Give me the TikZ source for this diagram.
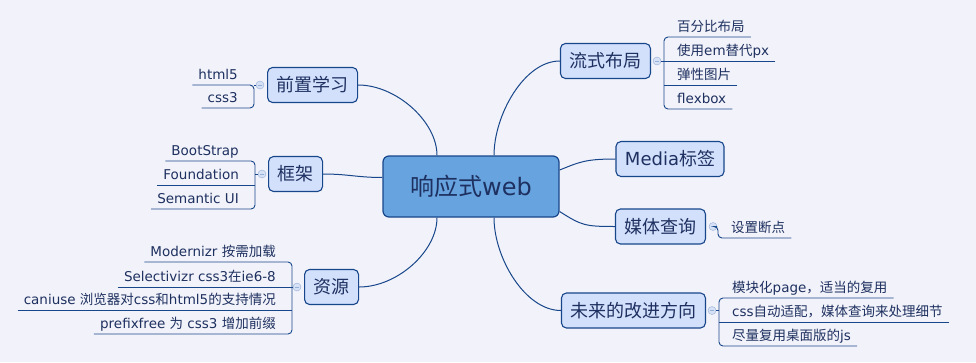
\documentclass[tikz,border=0pt]{standalone}
\usepackage{fontspec}
\setmainfont{DejaVu Sans}
\newfontfamily\cjkfont{Noto Sans CJK SC}
\usetikzlibrary{calc}

% cambio automatico de fuente para los caracteres chinos
\XeTeXinterchartokenstate=1
\newXeTeXintercharclass\cjkclass
\newcount\cjkc
\cjkc="3000
\loop \XeTeXcharclass\cjkc=\cjkclass \advance\cjkc by 1 \ifnum\cjkc<"3040 \repeat
\cjkc="4E00
\loop \XeTeXcharclass\cjkc=\cjkclass \advance\cjkc by 1 \ifnum\cjkc<"A000 \repeat
\cjkc="FF00
\loop \XeTeXcharclass\cjkc=\cjkclass \advance\cjkc by 1 \ifnum\cjkc<"FFF0 \repeat
\XeTeXinterchartoks 0 \cjkclass = {\begingroup\cjkfont}
\XeTeXinterchartoks 4095 \cjkclass = {\begingroup\cjkfont}
\XeTeXinterchartoks \cjkclass 0 = {\endgroup}
\XeTeXinterchartoks \cjkclass 4095 = {\endgroup}

\definecolor{papel}{RGB}{242,243,250}
\definecolor{relleno}{RGB}{210,224,252}
\definecolor{raiz}{RGB}{103,163,223}
\definecolor{marino}{RGB}{24,70,138}
\definecolor{tinta}{RGB}{30,48,96}
\definecolor{plegar}{RGB}{214,225,245}
\definecolor{plegarborde}{RGB}{150,175,215}

\begin{document}
\begin{tikzpicture}[
            x=1pt, y=-1pt,
            root/.style={draw=marino, line width=1.2pt, fill=raiz, rounded corners=6pt,
                minimum width=176pt, minimum height=61pt, text=tinta,
                font=\fontsize{24}{24}\selectfont},
            topic/.style={draw=marino, line width=1.1pt, fill=relleno, rounded corners=5pt,
                minimum height=35pt, inner xsep=9pt, text=tinta,
                font=\fontsize{18}{18}\selectfont},
            leaf/.style={inner xsep=6pt, inner ysep=5pt, text depth=0pt, text=tinta,
                font=\fontsize{13.5}{13.5}\selectfont},
            fold/.style={circle, draw=plegarborde, fill=plegar, minimum size=8pt, inner sep=0pt,
                path picture={\draw[plegarborde] ([xshift=-2pt]path picture bounding box.center)
                    -- ([xshift=2pt]path picture bounding box.center);}},
            branch/.style={marino, line width=1pt},
            bracket/.style={marino, line width=0.9pt, rounded corners=4pt},
        ]
            \useasboundingbox (0,0) rectangle (976,362);
            \fill[papel] (0,0) rectangle (976,362);

            % --- Nodo central ---
            \node[root] (web) at (471,186.5) {响应式web};

            % --- Temas principales ---
            \node[topic, anchor=west] (pre) at (267,85) {前置学习};
            \node[topic, anchor=west] (frame) at (268,174) {框架};
            \node[topic, anchor=west] (res) at (304,287) {资源};
            \node[topic, anchor=east] (fluid) at (651,61) {流式布局};
            \node[topic] (media) at (670,159) {Media标签};
            \node[topic, anchor=east] (mq) at (706,226.5) {媒体查询};
            \node[topic, anchor=east] (future) at (706,310.5) {未来的改进方向};

            % --- Ramas desde el nodo central ---
            \draw[branch] (pre.east) .. controls +(38,0) and +(0,-34) .. ([xshift=-34pt]web.north);
            \draw[branch] (frame.east) .. controls +(25,0) and +(-25,0) .. ([yshift=9pt]web.west);
            \draw[branch] (res.east) .. controls +(38,0) and +(0,34) .. ([xshift=-34pt]web.south);
            \draw[branch] (fluid.west) .. controls +(-36,0) and +(0,-40) .. ([xshift=23pt]web.north);
            \draw[branch] (media.west) .. controls +(-30,0) and +(20,-8) .. ([yshift=16.5pt]web.east);
            \draw[branch] (mq.west) .. controls +(-30,0) and +(22,14) .. ([yshift=-25pt]web.east);
            \draw[branch] (future.west) .. controls +(-36,0) and +(0,40) .. ([xshift=23pt]web.south);

            % --- Botones de plegar ---
            \node[fold] (preF) at (260,85) {};
            \node[fold] (frameF) at (262,174) {};
            \node[fold] (resF) at (297,287) {};
            \node[fold] (fluidF) at (657,61) {};
            \node[fold] (mqF) at (713,226.5) {};
            \node[fold] (futureF) at (712,310.5) {};
            \coordinate (preB) at (254,85);
            \coordinate (frameB) at (255,174);
            \coordinate (resB) at (292,287);
            \coordinate (fluidB) at (664,61);
            \coordinate (mqB) at (718,226.5);
            \coordinate (futureB) at (719,310.5);

            % --- Hojas a la izquierda ---
            \foreach \nm/\y/\txt in {html/85/html5, css/108/css3} {
                \node[leaf, anchor=south east] (\nm) at (244,\y) {\txt};
            }
            \foreach \nm/\y/\txt in {boot/161/BootStrap, found/185/Foundation, sem/209/Semantic UI} {
                \node[leaf, anchor=south east] (\nm) at (245,\y) {\txt};
            }
            \foreach \nm/\y/\txt in {modz/262/Modernizr 按需加载, selz/287/Selectivizr css3在ie6-8,
                    caniuse/310/caniuse 浏览器对css和html5的支持情况, prefx/334/prefixfree 为 css3 增加前缀} {
                \node[leaf, anchor=south east] (\nm) at (282,\y) {\txt};
            }

            % --- Hojas a la derecha ---
            \foreach \nm/\y/\txt in {pct/37/百分比布局, empx/61/使用em替代px, img/85/弹性图片, flex/109/flexbox} {
                \node[leaf, anchor=south west] (\nm) at (671,\y) {\txt};
            }
            \node[leaf, anchor=south west] (bp) at (725,238) {设置断点};
            \foreach \nm/\y/\txt in {page/298/模块化page，适当的复用, auto/322/css自动适配，媒体查询来处理细节,
                    js/346/尽量复用桌面版的js} {
                \node[leaf, anchor=south west] (\nm) at (726,\y) {\txt};
            }

            % --- Corchetes y subrayados ---
            \draw[bracket] (preF) -- (preB);
            \draw[bracket] (html.south west) -- (preB |- html.south) -- (preB |- css.south) -- (css.south west);

            \draw[bracket] (frameF) -- (frameB);
            \draw[bracket] (boot.south west) -- (frameB |- boot.south) -- (frameB |- sem.south) -- (sem.south west);
            \draw[bracket] (found.south west) -- (frameB |- found.south);

            \draw[bracket] (resF) -- (resB);
            \draw[bracket] (modz.south west) -- (resB |- modz.south) -- (resB |- prefx.south) -- (prefx.south west);
            \foreach \nm in {selz, caniuse} {
                \draw[bracket] (\nm.south west) -- (resB |- \nm.south);
            }

            \draw[bracket] (fluidF) -- (fluidB);
            \draw[bracket] (pct.south east) -- (fluidB |- pct.south) -- (fluidB |- flex.south) -- (flex.south east);
            \foreach \nm in {empx, img} {
                \draw[bracket] (\nm.south east) -- (fluidB |- \nm.south);
            }

            \draw[bracket] (mqF) -- (mqB) -- (mqB |- bp.south) -- (bp.south east);

            \draw[bracket] (futureF) -- (futureB);
            \draw[bracket] (page.south east) -- (futureB |- page.south) -- (futureB |- js.south) -- (js.south east);
            \draw[bracket] (auto.south east) -- (futureB |- auto.south);
        \end{tikzpicture}
\end{document}
